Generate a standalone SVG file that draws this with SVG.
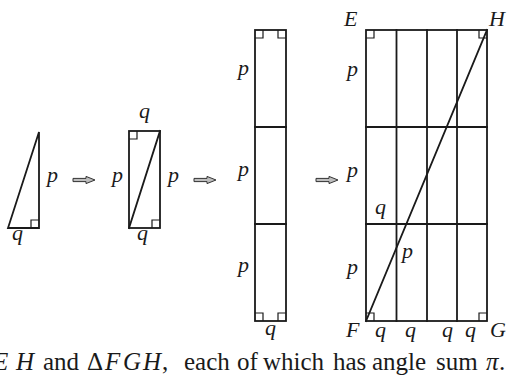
<svg xmlns="http://www.w3.org/2000/svg" width="507" height="377" viewBox="0 0 507 377">
<style>
.ln{fill:none;stroke:#1a1a1a;stroke-width:1.8;stroke-linecap:square}
.sq{fill:none;stroke:#1a1a1a;stroke-width:1.2}
.lb{font-family:"Liberation Serif","DejaVu Serif",serif;font-style:italic;font-size:22px;fill:#1a1a1a}
.cap{font-family:"Liberation Serif","DejaVu Serif",serif;font-size:25px;fill:#1a1a1a}
.it{font-style:italic}
.arr{fill:#bdbdbd;stroke:#333;stroke-width:1}
</style>
<defs>
<path id="arrow" class="arr" d="M0,-1.6 H13 V-3.6 L22,0 L13,3.6 V1.6 H0 Z"/>
</defs>
<rect width="507" height="377" fill="#fff"/>
<g id="triangle">
<path class="ln" d="M8,228 L39,228 L39,132 Z"/>
<path class="sq" d="M31,228 V220 H39"/>
<text class="lb" x="47" y="182">p</text>
<text class="lb" x="12" y="240">q</text>
</g>
<g id="rect2">
<rect class="ln" x="129" y="131" width="31" height="97"/>
<path class="ln" d="M129,228 L160,131"/>
<path class="sq" d="M129,139 H137 V131"/>
<path class="sq" d="M152,228 V220 H160"/>
<text class="lb" x="139" y="118">q</text>
<text class="lb" x="112" y="182">p</text>
<text class="lb" x="168" y="182">p</text>
<text class="lb" x="137" y="240">q</text>
</g>
<g id="rect3">
<rect class="ln" x="255" y="30" width="31" height="291"/>
<path class="ln" d="M255,127 H286 M255,224 H286"/>
<path class="sq" d="M255,38 H263 V30 M278,30 V38 H286"/>
<path class="sq" d="M255,313 H263 V321 M278,321 V313 H286"/>
<text class="lb" x="238" y="75">p</text>
<text class="lb" x="238" y="176">p</text>
<text class="lb" x="238" y="272">p</text>
<text class="lb" x="265" y="335">q</text>
</g>
<g id="grid">
<rect class="ln" x="366" y="30" width="121" height="291"/>
<path class="ln" d="M396.5,30 V321 M427,30 V321 M457,30 V321 M366,127 H487 M366,224 H487"/>
<path class="ln" d="M366,321 L487,30"/>
<path class="sq" d="M366,38 H374 V30 M479,30 V38 H487"/>
<path class="sq" d="M366,313 H374 V321 M479,321 V313 H487"/>
<text class="lb" x="344" y="26">E</text>
<text class="lb" x="489" y="26">H</text>
<text class="lb" x="347" y="76">p</text>
<text class="lb" x="347" y="177">p</text>
<text class="lb" x="347" y="274">p</text>
<text class="lb" x="375" y="214">q</text>
<text class="lb" x="402" y="258">p</text>
<text class="lb" x="346" y="337">F</text>
<text class="lb" x="375" y="337">q</text>
<text class="lb" x="405" y="337">q</text>
<text class="lb" x="442" y="337">q</text>
<text class="lb" x="465" y="337">q</text>
<text class="lb" x="490" y="337">G</text>
</g>
<g id="connectors">
<use href="#arrow" x="73" y="180"/>
<use href="#arrow" x="194" y="180"/>
<use href="#arrow" x="316" y="180"/>
</g>
<text class="cap" y="370"><tspan class="it" x="-7">E</tspan><tspan class="it" x="16">H</tspan><tspan x="43">and</tspan><tspan x="87">Δ</tspan><tspan class="it" x="105">F</tspan><tspan class="it" x="123">G</tspan><tspan class="it" x="143">H</tspan><tspan x="162">,</tspan><tspan x="184">each</tspan><tspan x="237">of</tspan><tspan x="263">which</tspan><tspan x="333">has</tspan><tspan x="372">angle</tspan><tspan x="436">sum</tspan><tspan class="it" x="486">π</tspan><tspan x="499">.</tspan></text>
</svg>
